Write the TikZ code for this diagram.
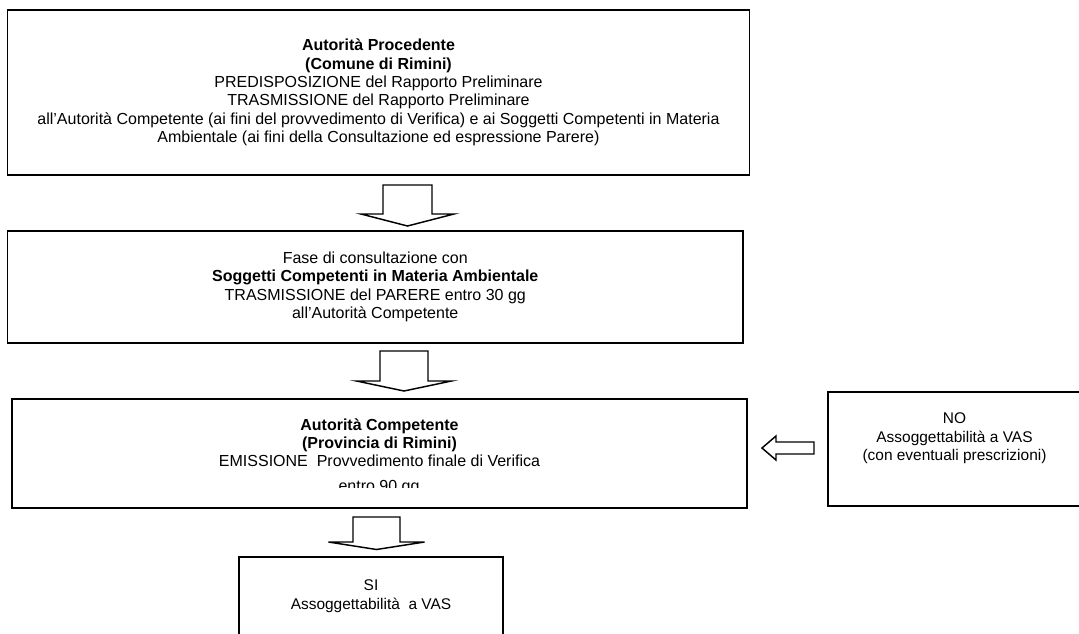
\documentclass[tikz,border=0pt]{standalone}
\usepackage{fontspec}
\setmainfont{Liberation Sans}

\tikzset{
  box/.style={draw, line width=1.2pt, align=center, inner sep=2pt,
    font=\fontsize{12pt}{13.8pt}\selectfont},
  boxpiccolo/.style={box, font=\fontsize{11.6pt}{14pt}\selectfont},
  freccia/.style={draw, line width=1.1pt, line join=miter}
}

\begin{document}
\begin{tikzpicture}[x=0.75pt,y=-0.75pt]
      \clip (0,0) rectangle (1079,633);
      % caselle
      \node [box, minimum width=556.5pt, minimum height=123.75pt] (proc) at (378.5,92.5)
        {\textbf{Autorità Procedente}\\ \textbf{(Comune di Rimini)}\\
         PREDISPOSIZIONE del Rapporto Preliminare\\
         TRASMISSIONE del Rapporto Preliminare\\
         all'Autorità Competente (ai fini del provvedimento di Verifica) e ai Soggetti Competenti in Materia\\
         Ambientale (ai fini della Consultazione ed espressione Parere)};
      \node [box, minimum width=551.6pt, minimum height=84pt] (cons) at (375.25,287)
        {Fase di consultazione con\\
         \textbf{Soggetti Competenti in Materia Ambientale}\\
         TRASMISSIONE del PARERE entro 30 gg\\
         all'Autorità Competente};
      \node [box, minimum width=551.25pt, minimum height=81.75pt] (comp) at (379.5,453.5)
        {\textbf{Autorità Competente}\\ \textbf{(Provincia di Rimini)}\\
         EMISSIONE\ \ Provvedimento finale di Verifica\\ \phantom{entro 90 gg}};
      \begin{scope}
      \clip (0,0) rectangle (1079,487);
      \node [anchor=base, font=\fontsize{12pt}{13.8pt}\selectfont] (entro) at (379,491) {entro 90 gg};
      \end{scope}
      \node [boxpiccolo, minimum width=189.75pt, minimum height=85.5pt] (noVAS) at (954.5,449)
        {NO\\ Assoggettabilità a VAS\\ (con eventuali prescrizioni)\\ \strut};
      \node [boxpiccolo, minimum width=198pt, minimum height=58.5pt] (siVAS) at (371,596)
        {SI\\ Assoggettabilità\ \ a VAS};
      % frecce
      \foreach \cx/\cy/\sw/\sl/\hw/\hl [count=\i] in
        {407.5/185/24.5/29/46.5/12, 404/351/24/30/47.5/10, 376.5/517/23.5/25/48/7.5}{
      \coordinate (f\i) at (\cx,\cy);
      \draw [freccia] (f\i) ++(-\sw,0) -- ++(0,\sl) -- ++(\sw-\hw,0) -- ++(\hw,\hl)
        -- ++(\hw,-\hl) -- ++(\sw-\hw,0) -- ++(0,-\sl) -- cycle; }
      \coordinate (fs) at (814,448);
      \draw [freccia] (fs) ++(0,-6) -- ++(-38,0) -- ++(0,-6) -- ++(-14,12)
        -- ++(14,12) -- ++(0,-6) -- ++(38,0) -- cycle;
\end{tikzpicture}
\end{document}
